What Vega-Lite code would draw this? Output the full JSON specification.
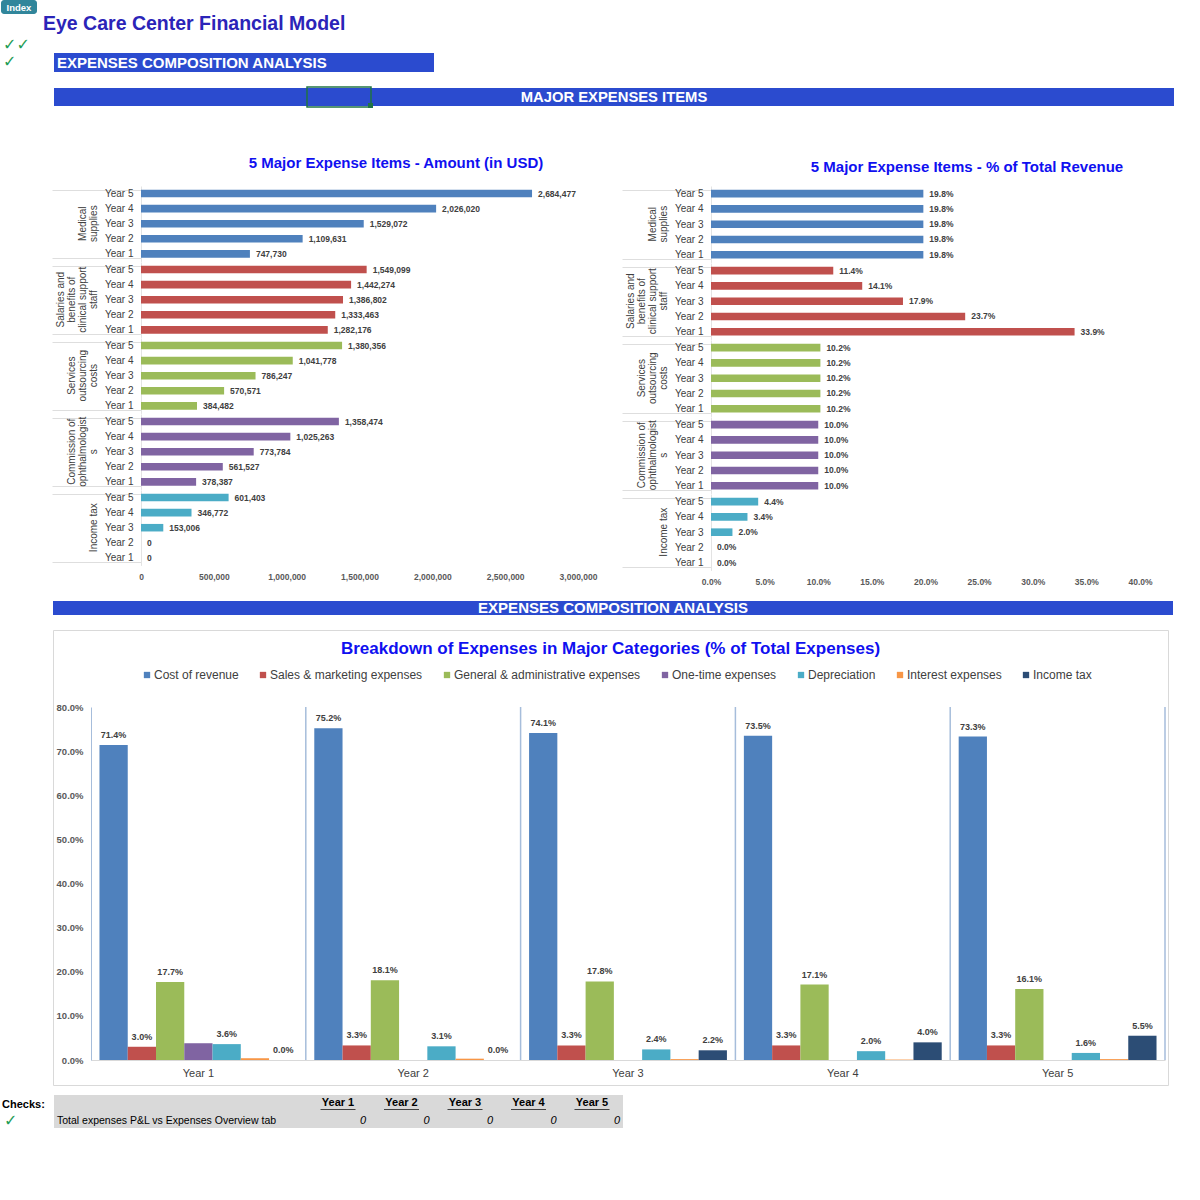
{
  "$schema": "https://vega.github.io/schema/vega-lite/v6.json",
  "background": "white",
  "padding": 0,
  "spacing": 15,
  "resolve": {"scale": {"color": "independent"}, "legend": {"color": "independent"}},
  "datasets": {
    "amounts": [
      {"Category": "Medical supplies", "Year": "Year 1", "Amount": 747730},
      {"Category": "Medical supplies", "Year": "Year 2", "Amount": 1109631},
      {"Category": "Medical supplies", "Year": "Year 3", "Amount": 1529072},
      {"Category": "Medical supplies", "Year": "Year 4", "Amount": 2026020},
      {"Category": "Medical supplies", "Year": "Year 5", "Amount": 2684477},
      {"Category": "Salaries and benefits of clinical support staff", "Year": "Year 1", "Amount": 1282176},
      {"Category": "Salaries and benefits of clinical support staff", "Year": "Year 2", "Amount": 1333463},
      {"Category": "Salaries and benefits of clinical support staff", "Year": "Year 3", "Amount": 1386802},
      {"Category": "Salaries and benefits of clinical support staff", "Year": "Year 4", "Amount": 1442274},
      {"Category": "Salaries and benefits of clinical support staff", "Year": "Year 5", "Amount": 1549099},
      {"Category": "Services outsourcing costs", "Year": "Year 1", "Amount": 384482},
      {"Category": "Services outsourcing costs", "Year": "Year 2", "Amount": 570571},
      {"Category": "Services outsourcing costs", "Year": "Year 3", "Amount": 786247},
      {"Category": "Services outsourcing costs", "Year": "Year 4", "Amount": 1041778},
      {"Category": "Services outsourcing costs", "Year": "Year 5", "Amount": 1380356},
      {"Category": "Commission of ophthalmologists", "Year": "Year 1", "Amount": 378387},
      {"Category": "Commission of ophthalmologists", "Year": "Year 2", "Amount": 561527},
      {"Category": "Commission of ophthalmologists", "Year": "Year 3", "Amount": 773784},
      {"Category": "Commission of ophthalmologists", "Year": "Year 4", "Amount": 1025263},
      {"Category": "Commission of ophthalmologists", "Year": "Year 5", "Amount": 1358474},
      {"Category": "Income tax", "Year": "Year 1", "Amount": 0},
      {"Category": "Income tax", "Year": "Year 2", "Amount": 0},
      {"Category": "Income tax", "Year": "Year 3", "Amount": 153006},
      {"Category": "Income tax", "Year": "Year 4", "Amount": 346772},
      {"Category": "Income tax", "Year": "Year 5", "Amount": 601403}
    ],
    "shares": [
      {"Category": "Medical supplies", "Year": "Year 1", "Share": 0.198},
      {"Category": "Medical supplies", "Year": "Year 2", "Share": 0.198},
      {"Category": "Medical supplies", "Year": "Year 3", "Share": 0.198},
      {"Category": "Medical supplies", "Year": "Year 4", "Share": 0.198},
      {"Category": "Medical supplies", "Year": "Year 5", "Share": 0.198},
      {"Category": "Salaries and benefits of clinical support staff", "Year": "Year 1", "Share": 0.339},
      {"Category": "Salaries and benefits of clinical support staff", "Year": "Year 2", "Share": 0.237},
      {"Category": "Salaries and benefits of clinical support staff", "Year": "Year 3", "Share": 0.179},
      {"Category": "Salaries and benefits of clinical support staff", "Year": "Year 4", "Share": 0.141},
      {"Category": "Salaries and benefits of clinical support staff", "Year": "Year 5", "Share": 0.114},
      {"Category": "Services outsourcing costs", "Year": "Year 1", "Share": 0.102},
      {"Category": "Services outsourcing costs", "Year": "Year 2", "Share": 0.102},
      {"Category": "Services outsourcing costs", "Year": "Year 3", "Share": 0.102},
      {"Category": "Services outsourcing costs", "Year": "Year 4", "Share": 0.102},
      {"Category": "Services outsourcing costs", "Year": "Year 5", "Share": 0.102},
      {"Category": "Commission of ophthalmologists", "Year": "Year 1", "Share": 0.1},
      {"Category": "Commission of ophthalmologists", "Year": "Year 2", "Share": 0.1},
      {"Category": "Commission of ophthalmologists", "Year": "Year 3", "Share": 0.1},
      {"Category": "Commission of ophthalmologists", "Year": "Year 4", "Share": 0.1},
      {"Category": "Commission of ophthalmologists", "Year": "Year 5", "Share": 0.1},
      {"Category": "Income tax", "Year": "Year 1", "Share": 0},
      {"Category": "Income tax", "Year": "Year 2", "Share": 0},
      {"Category": "Income tax", "Year": "Year 3", "Share": 0.02},
      {"Category": "Income tax", "Year": "Year 4", "Share": 0.034},
      {"Category": "Income tax", "Year": "Year 5", "Share": 0.044}
    ],
    "breakdown": [
      {"Year": "Year 1", "Category": "Cost of revenue", "Share": 0.714},
      {"Year": "Year 1", "Category": "Sales & marketing expenses", "Share": 0.03},
      {"Year": "Year 1", "Category": "General & administrative expenses", "Share": 0.177},
      {"Year": "Year 1", "Category": "One-time expenses", "Share": 0.038},
      {"Year": "Year 1", "Category": "Depreciation", "Share": 0.036},
      {"Year": "Year 1", "Category": "Interest expenses", "Share": 0.004},
      {"Year": "Year 1", "Category": "Income tax", "Share": 0},
      {"Year": "Year 2", "Category": "Cost of revenue", "Share": 0.752},
      {"Year": "Year 2", "Category": "Sales & marketing expenses", "Share": 0.033},
      {"Year": "Year 2", "Category": "General & administrative expenses", "Share": 0.181},
      {"Year": "Year 2", "Category": "One-time expenses", "Share": 0},
      {"Year": "Year 2", "Category": "Depreciation", "Share": 0.031},
      {"Year": "Year 2", "Category": "Interest expenses", "Share": 0.003},
      {"Year": "Year 2", "Category": "Income tax", "Share": 0},
      {"Year": "Year 3", "Category": "Cost of revenue", "Share": 0.741},
      {"Year": "Year 3", "Category": "Sales & marketing expenses", "Share": 0.033},
      {"Year": "Year 3", "Category": "General & administrative expenses", "Share": 0.178},
      {"Year": "Year 3", "Category": "One-time expenses", "Share": 0},
      {"Year": "Year 3", "Category": "Depreciation", "Share": 0.024},
      {"Year": "Year 3", "Category": "Interest expenses", "Share": 0.002},
      {"Year": "Year 3", "Category": "Income tax", "Share": 0.022},
      {"Year": "Year 4", "Category": "Cost of revenue", "Share": 0.735},
      {"Year": "Year 4", "Category": "Sales & marketing expenses", "Share": 0.033},
      {"Year": "Year 4", "Category": "General & administrative expenses", "Share": 0.171},
      {"Year": "Year 4", "Category": "One-time expenses", "Share": 0},
      {"Year": "Year 4", "Category": "Depreciation", "Share": 0.02},
      {"Year": "Year 4", "Category": "Interest expenses", "Share": 0.001},
      {"Year": "Year 4", "Category": "Income tax", "Share": 0.04},
      {"Year": "Year 5", "Category": "Cost of revenue", "Share": 0.733},
      {"Year": "Year 5", "Category": "Sales & marketing expenses", "Share": 0.033},
      {"Year": "Year 5", "Category": "General & administrative expenses", "Share": 0.161},
      {"Year": "Year 5", "Category": "One-time expenses", "Share": 0},
      {"Year": "Year 5", "Category": "Depreciation", "Share": 0.016},
      {"Year": "Year 5", "Category": "Interest expenses", "Share": 0.002},
      {"Year": "Year 5", "Category": "Income tax", "Share": 0.055}
    ],
    "checks": [
      {"Year": "Year 1", "Check": 0},
      {"Year": "Year 2", "Check": 0},
      {"Year": "Year 3", "Check": 0},
      {"Year": "Year 4", "Check": 0},
      {"Year": "Year 5", "Check": 0}
    ]
  },
  "vconcat": [
    {
      "width": 1200,
      "height": 141,
      "data": {"values": [{}]},
      "layer": [
        {"mark": {"type": "rect", "x": 0, "x2": 36, "y": 0, "y2": 14, "color": "#31869B", "cornerRadius": 3}},
        {"mark": {"type": "text", "x": 18, "y": 7.5, "text": "Index", "color": "white", "fontSize": 9.5, "fontWeight": "bold", "align": "center", "baseline": "middle"}},
        {"mark": {"type": "text", "x": 42, "y": 24, "text": "Eye Care Center Financial Model", "color": "#2B24B8", "fontSize": 19.5, "fontWeight": "bold", "align": "left", "baseline": "middle"}},
        {"mark": {"type": "text", "x": 2, "y": 45, "text": "✓✓", "font": "DejaVu Sans", "color": "#1F9D55", "fontSize": 16, "align": "left", "baseline": "middle"}},
        {"mark": {"type": "text", "x": 2, "y": 62, "text": "✓", "font": "DejaVu Sans", "color": "#1F9D55", "fontSize": 16, "align": "left", "baseline": "middle"}},
        {"mark": {"type": "rect", "x": 53, "x2": 433, "y": 53, "y2": 72, "color": "#2B4BCF"}},
        {"mark": {"type": "text", "x": 56, "y": 63, "text": "EXPENSES COMPOSITION ANALYSIS", "color": "white", "fontSize": 15, "fontWeight": "bold", "align": "left", "baseline": "middle"}},
        {"mark": {"type": "rect", "x": 53, "x2": 1173, "y": 88, "y2": 106, "color": "#2B4BCF"}},
        {"mark": {"type": "text", "x": 613, "y": 97.5, "text": "MAJOR EXPENSES ITEMS", "color": "white", "fontSize": 14.8, "fontWeight": "bold", "align": "center", "baseline": "middle"}},
        {"mark": {"type": "rect", "x": 306, "x2": 370, "y": 87, "y2": 107, "filled": false, "color": "#217346", "strokeWidth": 1.5}},
        {"mark": {"type": "rect", "x": 367, "x2": 372, "y": 103, "y2": 108, "color": "#217346"}}
      ]
    },
    {
      "spacing": 24,
      "resolve": {"scale": {"color": "independent"}, "legend": {"color": "independent"}},
      "hconcat": [
        {"width": 26, "height": 10, "data": {"values": [{}]}, "mark": {"type": "text", "text": ""}},
        {
          "data": {"name": "amounts"},
          "title": {"text": "5 Major Expense Items - Amount (in USD)", "fontSize": 15, "fontWeight": "bold", "color": "#1010F0", "frame": "group", "anchor": "middle", "dx": 255, "offset": 10},
          "spacing": 0,
          "facet": {
            "row": {
              "field": "Category", "type": "nominal", "title": null,
              "sort": ["Medical supplies", "Salaries and benefits of clinical support staff", "Services outsourcing costs", "Commission of ophthalmologists", "Income tax"],
              "header": {
                "labelAngle": -90, "labelOrient": "left", "labelAlign": "center", "labelBaseline": "bottom",
                "labelExpr": "datum.value == 'Medical supplies' ? ['Medical', 'supplies'] : datum.value == 'Salaries and benefits of clinical support staff' ? ['Salaries and', 'benefits of', 'clinical support', 'staff'] : datum.value == 'Services outsourcing costs' ? ['Services', 'outsourcing', 'costs'] : datum.value == 'Commission of ophthalmologists' ? ['Commission of', 'ophthalmologist', 's'] : datum.value",
                "labelFontSize": 10, "labelColor": "#404040", "labelPadding": -57, "labelLineHeight": 11
              }
            }
          },
          "spec": {
            "width": 437,
            "height": 75.4,
            "encoding": {
              "y": {"field": "Year", "type": "ordinal", "sort": "descending", "title": null,
                    "scale": {"paddingInner": 0.5, "paddingOuter": 0.25},
                    "axis": {"ticks": true, "tickBand": "extent", "tickSize": 89, "tickColor": "#DEDEDE", "tickWidth": 1,
                             "tickOpacity": {"condition": {"test": "datum.value == 'Year 1' || datum.extra", "value": 1}, "value": 0},
                             "domainColor": "#E3E3E3", "labelFontSize": 10, "labelColor": "#404040", "labelPadding": -81}},
              "x": {"field": "Amount", "type": "quantitative", "title": null,
                    "scale": {"domain": [0, 3000000]},
                    "axis": {"values": [0, 500000, 1000000, 1500000, 2000000, 2500000, 3000000], "format": ",.0f", "labelFlush": false, "grid": false, "domain": false, "ticks": false, "labelFontSize": 8.5, "labelFontWeight": "bold", "labelColor": "#595959", "labelPadding": 6}}
            },
            "layer": [
              {"mark": {"type": "bar"},
               "encoding": {"color": {"field": "Category", "type": "nominal", "legend": null,
                 "scale": {"domain": ["Medical supplies", "Salaries and benefits of clinical support staff", "Services outsourcing costs", "Commission of ophthalmologists", "Income tax"],
                           "range": ["#4F81BD", "#C0504D", "#9BBB59", "#8064A2", "#4BACC6"]}}}},
              {"mark": {"type": "text", "align": "left", "dx": 6, "fontSize": 8.5, "fontWeight": "bold", "color": "#404040"},
               "encoding": {"text": {"field": "Amount", "type": "quantitative", "format": ",.0f"}}}
            ]
          }
        },
        {
          "data": {"name": "shares"},
          "title": {"text": "5 Major Expense Items - % of Total Revenue", "fontSize": 15, "fontWeight": "bold", "color": "#1010F0", "frame": "group", "anchor": "middle", "dx": 256, "offset": 6},
          "spacing": 0,
          "facet": {
            "row": {
              "field": "Category", "type": "nominal", "title": null,
              "sort": ["Medical supplies", "Salaries and benefits of clinical support staff", "Services outsourcing costs", "Commission of ophthalmologists", "Income tax"],
              "header": {
                "labelAngle": -90, "labelOrient": "left", "labelAlign": "center", "labelBaseline": "bottom",
                "labelExpr": "datum.value == 'Medical supplies' ? ['Medical', 'supplies'] : datum.value == 'Salaries and benefits of clinical support staff' ? ['Salaries and', 'benefits of', 'clinical support', 'staff'] : datum.value == 'Services outsourcing costs' ? ['Services', 'outsourcing', 'costs'] : datum.value == 'Commission of ophthalmologists' ? ['Commission of', 'ophthalmologist', 's'] : datum.value",
                "labelFontSize": 10, "labelColor": "#404040", "labelPadding": -57, "labelLineHeight": 11
              }
            }
          },
          "spec": {
            "width": 429,
            "height": 76.4,
            "encoding": {
              "y": {"field": "Year", "type": "ordinal", "sort": "descending", "title": null,
                    "scale": {"paddingInner": 0.5, "paddingOuter": 0.25},
                    "axis": {"ticks": true, "tickBand": "extent", "tickSize": 89, "tickColor": "#DEDEDE", "tickWidth": 1,
                             "tickOpacity": {"condition": {"test": "datum.value == 'Year 1' || datum.extra", "value": 1}, "value": 0},
                             "domainColor": "#E3E3E3", "labelFontSize": 10, "labelColor": "#404040", "labelPadding": -81}},
              "x": {"field": "Share", "type": "quantitative", "title": null,
                    "scale": {"domain": [0, 0.4]},
                    "axis": {"values": [0, 0.05, 0.1, 0.15, 0.2, 0.25, 0.3, 0.35, 0.4], "format": ".1%", "labelFlush": false, "grid": false, "domain": false, "ticks": false, "labelFontSize": 8.5, "labelFontWeight": "bold", "labelColor": "#595959", "labelPadding": 6}}
            },
            "layer": [
              {"mark": {"type": "bar"},
               "encoding": {"color": {"field": "Category", "type": "nominal", "legend": null,
                 "scale": {"domain": ["Medical supplies", "Salaries and benefits of clinical support staff", "Services outsourcing costs", "Commission of ophthalmologists", "Income tax"],
                           "range": ["#4F81BD", "#C0504D", "#9BBB59", "#8064A2", "#4BACC6"]}}}},
              {"mark": {"type": "text", "align": "left", "dx": 6, "fontSize": 8.5, "fontWeight": "bold", "color": "#404040"},
               "encoding": {"text": {"field": "Share", "type": "quantitative", "format": ".1%"}}}
            ]
          }
        }
      ]
    },
    {
      "spacing": 13,
      "resolve": {"scale": {"color": "independent"}, "legend": {"color": "independent"}},
      "vconcat": [
        {
          "spacing": 0,
          "hconcat": [
            {"width": 52, "height": 14, "data": {"values": [{}]}, "mark": {"type": "text", "text": ""}},
            {
              "width": 1120,
              "height": 14,
              "view": {"fill": "#2B4BCF"},
              "data": {"values": [{"t": "EXPENSES COMPOSITION ANALYSIS"}]},
              "mark": {"type": "text", "color": "white", "fontSize": 15, "fontWeight": "bold", "baseline": "middle"},
              "encoding": {"text": {"field": "t"}}
            }
          ]
        },
        {
          "spacing": 8,
          "resolve": {"scale": {"color": "independent"}, "legend": {"color": "independent"}},
          "vconcat": [
            {
              "spacing": 0,
              "resolve": {"scale": {"color": "independent"}, "legend": {"color": "independent"}},
              "hconcat": [
                {"width": 51, "height": 14, "data": {"values": [{}]}, "mark": {"type": "text", "text": ""}},
                {
                  "width": 1115,
                  "height": 455,
                  "view": {"stroke": "#D9D9D9"},
                  "data": {"name": "breakdown"},
                  "title": {"text": "Breakdown of Expenses in Major Categories (% of Total Expenses)", "fontSize": 17, "fontWeight": "bold", "color": "#1010F0", "offset": -28, "anchor": "middle"},
                  "encoding": {
                    "x": {"field": "Year", "type": "nominal", "title": null,
                          "scale": {"range": [38, 1112], "paddingInner": 0, "paddingOuter": 0},
                          "axis": {"orient": "bottom", "offset": -25, "labelAngle": 0, "labelFontSize": 11, "labelColor": "#404040", "labelPadding": 7, "ticks": false, "domainColor": "#D9D9D9"}},
                    "y": {"field": "Share", "type": "quantitative", "title": null,
                          "scale": {"domain": [0, 0.8], "range": [430, 77]},
                          "axis": {"offset": -38, "values": [0, 0.1, 0.2, 0.3, 0.4, 0.5, 0.6, 0.7, 0.8], "format": ".1%", "grid": false, "ticks": false, "domainColor": "#A6BDDB", "labelFontSize": 9.5, "labelFontWeight": "bold", "labelColor": "#595959", "labelPadding": 8}}
                  },
                  "layer": [
                    {
                      "mark": {"type": "bar"},
                      "encoding": {
                        "xOffset": {"field": "Category", "type": "nominal",
                          "scale": {"domain": ["Cost of revenue", "Sales & marketing expenses", "General & administrative expenses", "One-time expenses", "Depreciation", "Interest expenses", "Income tax"], "paddingOuter": 0.3, "paddingInner": 0}},
                        "color": {"field": "Category", "type": "nominal",
                          "scale": {"domain": ["Cost of revenue", "Sales & marketing expenses", "General & administrative expenses", "One-time expenses", "Depreciation", "Interest expenses", "Income tax"],
                                    "range": ["#4F81BD", "#C0504D", "#9BBB59", "#8064A2", "#4BACC6", "#F79646", "#2C4D75"]},
                          "legend": {"orient": "none", "legendX": 88, "legendY": 39, "direction": "horizontal", "title": null, "symbolType": "square", "symbolSize": 40, "symbolStrokeWidth": 0, "labelFontSize": 12, "labelLimit": 0, "labelColor": "#404040", "columnPadding": 18, "labelOffset": 1}}
                      }
                    },
                    {
                      "transform": [{"filter": {"field": "Category", "oneOf": ["Cost of revenue", "Sales & marketing expenses", "General & administrative expenses", "Depreciation", "Income tax"]}}],
                      "mark": {"type": "text", "baseline": "bottom", "dy": -5, "fontSize": 9, "fontWeight": "bold", "color": "#404040"},
                      "encoding": {
                        "xOffset": {"field": "Category", "type": "nominal"},
                        "text": {"field": "Share", "type": "quantitative", "format": ".1%"}
                      }
                    },
                    {
                      "transform": [{"filter": "datum.Category == 'Cost of revenue'"}],
                      "mark": {"type": "rule", "color": "#A6BDDB", "strokeWidth": 1.5},
                      "encoding": {
                        "x": {"field": "Year", "type": "nominal", "bandPosition": 1},
                        "y": {"datum": 0.8},
                        "y2": {"datum": 0}
                      }
                    }
                  ]
                }
              ]
            },
            {
              "spacing": 0,
              "hconcat": [
                {
                  "width": 53,
                  "height": 33,
                  "data": {"values": [{}]},
                  "layer": [
                    {"mark": {"type": "text", "x": 1, "y": 10, "text": "Checks:", "fontSize": 11, "fontWeight": "bold", "color": "black", "align": "left", "baseline": "middle"}},
                    {"mark": {"type": "rule", "x": 1, "x2": 44, "y": 16, "y2": 16, "color": "black", "strokeWidth": 1}, "encoding": {}},
                    {"mark": {"type": "text", "x": 3, "y": 26, "text": "✓", "font": "DejaVu Sans", "fontSize": 16, "color": "#1F9D55", "align": "left", "baseline": "middle"}}
                  ]
                },
                {
                  "width": 569,
                  "height": 33,
                  "view": {"fill": "#D9D9D9"},
                  "data": {"name": "checks"},
                  "layer": [
                    {"mark": {"type": "text", "y": 8, "fontSize": 11, "fontWeight": "bold", "color": "black", "baseline": "middle"},
                     "encoding": {"x": {"field": "Year", "type": "nominal", "scale": {"type": "point", "range": [284, 538], "padding": 0}, "axis": null},
                                  "text": {"field": "Year", "type": "nominal"}}},
                    {"mark": {"type": "tick", "orient": "horizontal", "y": 14.5, "size": 35, "thickness": 1, "color": "black"},
                     "encoding": {"x": {"field": "Year", "type": "nominal"}}},
                    {"mark": {"type": "text", "y": 26, "dx": 28, "align": "right", "fontStyle": "italic", "fontSize": 11, "color": "black", "baseline": "middle"},
                     "encoding": {"x": {"field": "Year", "type": "nominal"}, "text": {"field": "Check", "type": "quantitative"}}},
                    {"data": {"values": [{"label": "Total expenses P&L vs Expenses Overview tab"}]},
                     "mark": {"type": "text", "x": 3, "y": 26, "align": "left", "fontSize": 10.5, "color": "black", "baseline": "middle"},
                     "encoding": {"text": {"field": "label", "type": "nominal"}}}
                  ]
                }
              ]
            }
          ]
        }
      ]
    }
  ],
  "config": {
    "font": "Liberation Sans",
    "view": {"stroke": null},
    "axis": {"labelFont": "Liberation Sans"},
    "header": {"labelFont": "Liberation Sans"},
    "title": {"font": "Liberation Sans"},
    "legend": {"labelFont": "Liberation Sans"}
  }
}
